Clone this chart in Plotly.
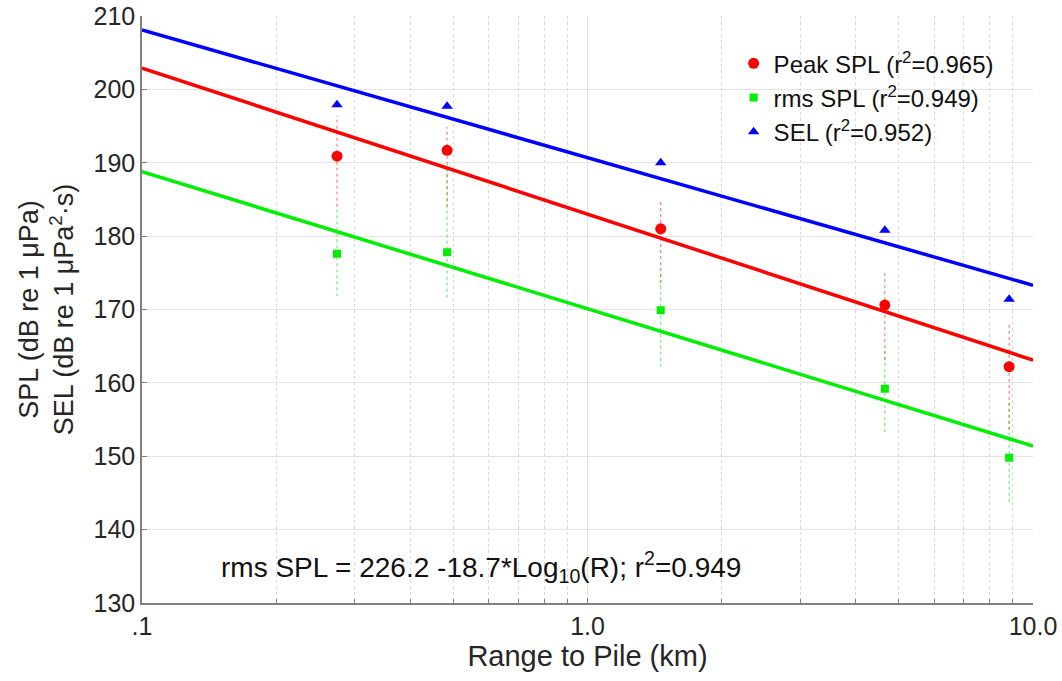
import math
import plotly.graph_objects as go

# ---- data ----
range_km = [0.274, 0.484, 1.46, 4.65, 8.84]

peak_spl = [190.9, 191.7, 181.0, 170.6, 162.2]
peak_hi = [196.4, 194.9, 184.9, 175.1, 168.2]
peak_lo = [184.0, 184.0, 173.6, 163.1, 153.6]

rms_spl = [177.6, 177.8, 169.9, 159.2, 149.8]
rms_hi = [183.6, 189.7, 175.0, 164.9, 157.3]
rms_lo = [171.8, 171.6, 162.2, 153.3, 143.8]

sel = [197.9, 197.7, 190.0, 180.8, 171.4]

# regression coefficients: L = a - b*log10(R[m])
fit_peak = (242.7, 19.9)
fit_rms = (226.2, 18.7)
fit_sel = (242.9, 17.4)
fit_range_km = [0.1, 10.0]

x_ticks = [0.1, 1.0, 10.0]
x_ticktext = [".1", "1.0", "10.0"]
x_minor = [0.2, 0.3, 0.4, 0.5, 0.6, 0.7, 0.8, 0.9, 2, 3, 4, 5, 6, 7, 8, 9]
y_ticks = [130, 140, 150, 160, 170, 180, 190, 200, 210]


def fit_line(coef):
    a, b = coef
    return [a - b * math.log10(r * 1000.0) for r in fit_range_km]


def vbars(xs, lo, hi):
    X, Y = [], []
    for x, l, h in zip(xs, lo, hi):
        X += [x, x, None]
        Y += [l, h, None]
    return X, Y


RED = "#ff0000"
GREEN = "#00ee00"
BLUE = "#0000ff"

fig = go.Figure()

# error bars (dotted)
ex, ey = vbars(range_km, peak_lo, peak_hi)
fig.add_trace(go.Scatter(x=ex, y=ey, mode="lines", showlegend=False, hoverinfo="skip",
                         line=dict(color="rgba(255,0,0,0.6)", width=1, dash="dot")))
ex, ey = vbars(range_km, rms_lo, rms_hi)
fig.add_trace(go.Scatter(x=ex, y=ey, mode="lines", showlegend=False, hoverinfo="skip",
                         line=dict(color="rgba(0,220,0,0.65)", width=1, dash="dot")))

# fit lines
fig.add_trace(go.Scatter(x=fit_range_km, y=fit_line(fit_rms), mode="lines", showlegend=False,
                         line=dict(color=GREEN, width=3.5)))
fig.add_trace(go.Scatter(x=fit_range_km, y=fit_line(fit_peak), mode="lines", showlegend=False,
                         line=dict(color=RED, width=3.5)))
fig.add_trace(go.Scatter(x=fit_range_km, y=fit_line(fit_sel), mode="lines", showlegend=False,
                         line=dict(color=BLUE, width=3.5)))

# markers
fig.add_trace(go.Scatter(x=range_km, y=peak_spl, mode="markers", name="Peak SPL (r<sup>2</sup>=0.965)",
                         marker=dict(symbol="circle", size=11, color=RED)))
fig.add_trace(go.Scatter(x=range_km, y=rms_spl, mode="markers", name="rms SPL (r<sup>2</sup>=0.949)",
                         marker=dict(symbol="square", size=8, color=GREEN)))
fig.add_trace(go.Scatter(x=range_km, y=sel, mode="markers", name="SEL (r<sup>2</sup>=0.952)",
                         marker=dict(symbol="triangle-up", size=10, color=BLUE)))

fig.add_annotation(x=0.086, y=0.062, xref="paper", yref="paper", xanchor="left", yanchor="middle",
                   text="rms SPL = 226.2 -18.7*Log<sub>10</sub>(R); r<sup>2</sup>=0.949",
                   showarrow=False, font=dict(size=28, color="#111111"))

fig.update_layout(
    width=1062, height=681,
    margin=dict(l=142, r=29, t=16, b=78),
    paper_bgcolor="white", plot_bgcolor="white",
    font=dict(family="Liberation Sans, Arial, sans-serif", size=24, color="#262626"),
    legend=dict(x=0.664, y=0.957, xanchor="left", yanchor="top", bgcolor="rgba(0,0,0,0)",
                font=dict(size=24, color="#111111"), tracegroupgap=0, itemsizing="trace"),
    showlegend=True,
)

fig.update_xaxes(
    type="log", range=[-1, 1],
    tickvals=x_ticks, ticktext=x_ticktext,
    ticks="inside", ticklen=5, tickcolor="#808080",
    showline=True, linecolor="#808080", linewidth=1.5,
    showgrid=True, gridcolor="#e3e3e3", gridwidth=1,
    zeroline=False, automargin=False, ticklabeloverflow="allow",
    minor=dict(tickvals=x_minor, ticks="inside", ticklen=4, tickcolor="#808080",
               showgrid=True, gridcolor="#d8d8d8", griddash="dot", gridwidth=1),
    title=dict(text="Range to Pile (km)", font=dict(size=29, color="#262626"), standoff=4),
    tickfont=dict(size=25),
)
fig.update_yaxes(
    range=[130, 210], tickvals=y_ticks,
    ticks="inside", ticklen=5, tickcolor="#808080",
    showline=True, linecolor="#808080", linewidth=1.5,
    showgrid=True, gridcolor="#e3e3e3", gridwidth=1,
    zeroline=False, automargin=False, ticklabeloverflow="allow",
    title=dict(text="SPL (dB re 1 μPa)<br>SEL (dB re 1 μPa<sup>2</sup>·s)",
               font=dict(size=27, color="#262626"), standoff=12),
    tickfont=dict(size=25),
)

fig.write_html(
    "out.html",
    config={"displayModeBar": False},
    post_script="document.body.style.margin='0';document.documentElement.style.overflow='hidden';",
)
